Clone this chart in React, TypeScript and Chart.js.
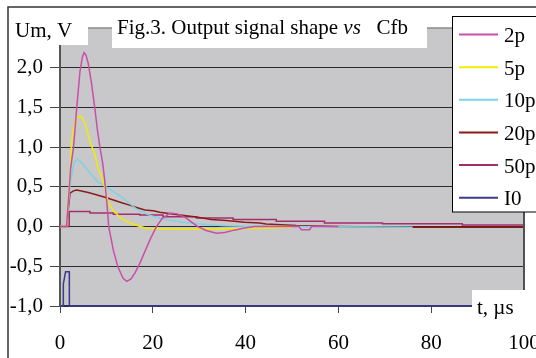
import React, { useEffect, useRef } from 'react';
import { Chart, registerables } from 'chart.js';

Chart.register(...registerables);

const FONT = "'Liberation Serif', 'Times New Roman', serif";

// ---- data ----
const seriesLabels = ['2p', '5p', '10p', '20p', '50p', 'I0'];
const seriesColors = ['#c94fa8', '#f2ec00', '#7dd3e3', '#8c1a1a', '#a32e6e', '#3c3c8c'];

const t2p = [0, 1.4, 1.9, 2.3, 2.9, 3.6, 4.3, 4.8, 5.2, 5.6, 6.1, 6.8, 7.5, 8.1, 8.6, 9.2, 9.6, 10.1, 10.5, 11.5, 12.5, 13.6, 14.4, 15.3, 16.2, 17.3, 18.4, 19.6, 20.8, 22.0, 23.7, 25.3, 26.9, 28.3, 29.7, 31.5, 33.7, 35.5, 37.5, 39.5, 42, 51.5, 52, 53.8, 54.2, 60];
const v2p = [0, 0, 0.4, 0.74, 0.99, 1.49, 1.95, 2.13, 2.19, 2.16, 2.05, 1.8, 1.49, 1.2, 1.0, 0.8, 0.6, 0.3, 0.0, -0.3, -0.51, -0.65, -0.69, -0.66, -0.58, -0.45, -0.3, -0.14, 0.0, 0.1, 0.17, 0.16, 0.12, 0.06, 0.0, -0.05, -0.085, -0.075, -0.045, -0.02, 0.0, 0.0, -0.04, -0.04, 0.0, 0.0];

const t5p = [0, 1.4, 2.15, 2.5, 3.2, 3.8, 4.5, 5.0, 5.7, 6.45, 7.5, 8.2, 9.0, 9.6, 10.4, 11.5, 12.9, 14, 15.8, 16.8, 18.6, 25, 35, 42, 50];
const v5p = [0, 0, 0.66, 1.07, 1.32, 1.38, 1.39, 1.35, 1.24, 1.07, 0.91, 0.74, 0.62, 0.5, 0.3, 0.2, 0.12, 0.075, 0.03, 0.01, -0.02, -0.03, -0.03, -0.02, -0.01];

const t10p = [0, 1.4, 2.2, 3.0, 3.8, 5, 6.1, 8, 9.7, 11.5, 13.3, 15, 16.5, 18.6, 20, 22.2, 24, 26.5, 29, 31.5, 35.5, 40, 50, 76];
const v10p = [0, 0, 0.55, 0.8, 0.85, 0.78, 0.7, 0.57, 0.51, 0.44, 0.37, 0.29, 0.22, 0.16, 0.13, 0.096, 0.075, 0.054, 0.04, 0.025, 0.01, 0.005, 0, -0.01];

const t20p = [0, 1.4, 2.15, 2.9, 3.6, 6.1, 9.7, 13.3, 15, 16.5, 18.3, 20.1, 21.5, 25.4, 29.4, 32.6, 35.8, 39.8, 43, 44.4, 50.9, 59.5, 76.7, 100];
const v20p = [0, 0, 0.42, 0.45, 0.46, 0.43, 0.37, 0.3, 0.27, 0.24, 0.21, 0.2, 0.18, 0.15, 0.12, 0.09, 0.075, 0.054, 0.046, 0.033, 0.0125, 0.0, -0.01, -0.01];

const t50p = [0, 2.0, 6.45, 11.5, 17.2, 22.2, 29.4, 37.3, 46.6, 57, 69.5, 86.7, 100];
const v50p = [0, 0.19, 0.17, 0.155, 0.145, 0.125, 0.108, 0.088, 0.067, 0.046, 0.035, 0.02, 0.02];

const tI0 = [0, 0.7, 0.72, 1.2, 2.0, 2.02, 100];
const vI0 = [-1, -1, -0.72, -0.57, -0.57, -1, -1];

const seriesT = [t2p, t5p, t10p, t20p, t50p, tI0];
const seriesV = [v2p, v5p, v10p, v20p, v50p, vI0];
const seriesStepped = [false, false, false, false, true, false];

const xMin = 0, xMax = 100, xStep = 20;
const yMin = -1, yMax = 2.5, yStep = 0.5;

const titleParts = ['Fig.3. Output signal shape ', 'vs', '   Cfb'];
const yAxisTitle = 'Um, V';
const xAxisTitle = 't, \u00b5s';

const PLOT_BG = '#c8c8ca';

const decor = {
  id: 'decor',
  beforeDraw(chart: any) {
    const { ctx, chartArea: a } = chart;
    ctx.save();
    ctx.fillStyle = '#ffffff';
    ctx.fillRect(0, 0, chart.width, chart.height);
    ctx.fillStyle = PLOT_BG;
    ctx.fillRect(a.left, a.top, a.right - a.left, a.bottom - a.top);
    ctx.restore();
  },
  afterDraw(chart: any) {
    const { ctx, chartArea: a } = chart;
    ctx.save();
    // plot top & right border
    ctx.strokeStyle = '#8a8a8a';
    ctx.lineWidth = 1.5;
    ctx.beginPath();
    ctx.moveTo(a.left, a.top);
    ctx.lineTo(a.right, a.top);
    ctx.stroke();
    ctx.strokeStyle = '#505050';
    ctx.lineWidth = 2;
    ctx.beginPath();
    ctx.moveTo(a.right, a.top);
    ctx.lineTo(a.right, a.bottom);
    ctx.stroke();

    // white boxes
    ctx.fillStyle = '#ffffff';
    ctx.fillRect(8, 7, 80, 38); // Um, V
    ctx.fillRect(112, 7, 315, 41); // title
    ctx.fillRect(472, 290, 70, 28); // t, us

    // outer frame
    ctx.strokeStyle = '#333333';
    ctx.lineWidth = 1.5;
    ctx.beginPath();
    ctx.moveTo(8, chart.height + 2);
    ctx.lineTo(8, 7);
    ctx.lineTo(chart.width + 2, 7);
    ctx.stroke();

    ctx.fillStyle = '#000000';
    ctx.textBaseline = 'alphabetic';
    ctx.textAlign = 'left';
    ctx.font = `21px ${FONT}`;
    ctx.fillText(yAxisTitle, 15, 37);
    ctx.fillText(xAxisTitle, 477, 314);

    // title
    let x = 117;
    ctx.font = `21px ${FONT}`;
    ctx.fillText(titleParts[0], x, 33.5);
    x += ctx.measureText(titleParts[0]).width;
    ctx.font = `italic 21px ${FONT}`;
    ctx.fillText(titleParts[1], x, 33.5);
    x += ctx.measureText(titleParts[1]).width;
    ctx.font = `21px ${FONT}`;
    ctx.fillText(titleParts[2], x, 33.5);

    // legend
    ctx.fillStyle = '#ffffff';
    ctx.fillRect(452.5, 16.5, 90, 195.5);
    ctx.strokeStyle = '#000000';
    ctx.lineWidth = 1;
    ctx.strokeRect(452.5, 16.5, 90, 195.5);
    chart.data.datasets.forEach((ds: any, i: number) => {
      const y = 34.5 + i * 32.65;
      ctx.strokeStyle = ds.borderColor;
      ctx.lineWidth = 2;
      ctx.beginPath();
      ctx.moveTo(459, y);
      ctx.lineTo(498, y);
      ctx.stroke();
      ctx.fillStyle = '#000000';
      ctx.font = `21px ${FONT}`;
      ctx.fillText(ds.label, 504, y + 7.5);
    });
    ctx.restore();
  },
};

export default function App() {
  const ref = useRef<HTMLCanvasElement | null>(null);
  useEffect(() => {
    if (!ref.current) return;
    const datasets = seriesLabels.map((label, i) => ({
      label,
      data: seriesT[i].map((t, j) => ({ x: t, y: seriesV[i][j] })),
      borderColor: seriesColors[i],
      backgroundColor: seriesColors[i],
      borderWidth: 1.5,
      pointRadius: 0,
      fill: false,
      tension: 0,
      stepped: seriesStepped[i] ? 'before' : false,
      clip: 2,
    }));
    const chart = new Chart(ref.current, {
      type: 'line',
      data: { datasets } as any,
      options: {
        responsive: false,
        animation: false,
        devicePixelRatio: 1,
        layout: { padding: { left: 0, top: 28, right: 12, bottom: 0 } },
        plugins: {
          legend: { display: false },
          title: { display: false },
          tooltip: { enabled: false },
        },
        scales: {
          x: {
            type: 'linear',
            min: xMin,
            max: xMax,
            ticks: {
              stepSize: xStep,
              color: '#000',
              font: { family: FONT, size: 21 },
              padding: 18,
              maxRotation: 0,
            },
            grid: { drawOnChartArea: false, drawTicks: true, tickLength: 7, color: '#444' },
            border: { display: true, color: '#2a2a6a', width: 1.5 },
            afterFit: (s: any) => {
              s.height = 52;
              s.paddingLeft = 0;
              s.paddingRight = 0;
            },
          },
          y: {
            type: 'linear',
            min: yMin,
            max: yMax,
            ticks: {
              stepSize: yStep,
              color: '#000',
              font: { family: FONT, size: 21 },
              padding: 7,
              callback: (v: any) => (Math.abs(v - yMax) < 1e-9 ? '' : Number(v).toFixed(1).replace('.', ',')),
            },
            grid: {
              drawTicks: true,
              tickLength: 10,
              color: (c: any) => (c.tick && (Math.abs(c.tick.value - yMax) < 1e-9) ? 'rgba(0,0,0,0)' : '#2b2b2b'),
              tickColor: '#444',
              lineWidth: 1,
            },
            border: { display: true, color: '#555', width: 2 },
            afterFit: (s: any) => {
              s.width = 60;
              s.paddingTop = 0;
              s.paddingBottom = 0;
            },
          },
        },
      } as any,
      plugins: [decor],
    });
    return () => chart.destroy();
  }, []);
  return (
    <canvas
      ref={ref}
      width={536}
      height={358}
      style={{ position: 'absolute', left: 0, top: 0, width: 536, height: 358 }}
    />
  );
}
